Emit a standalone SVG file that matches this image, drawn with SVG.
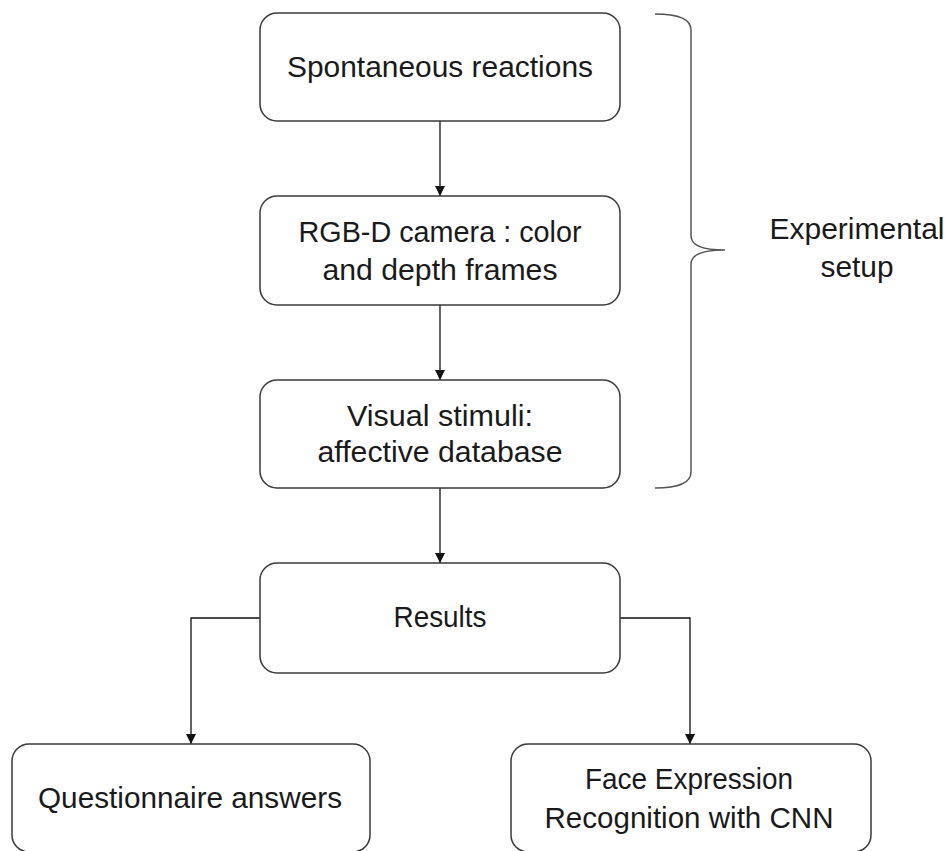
<svg xmlns="http://www.w3.org/2000/svg" width="949" height="851" viewBox="0 0 949 851">
  <style>
    .box rect { fill: #ffffff; stroke: #3a3a3a; stroke-width: 1.5; }
    .box text, .label { font-family: "Liberation Sans", Arial, sans-serif; font-size: 29px; fill: #1a1a1a; text-anchor: middle; }
    .conn { fill: none; stroke: #111111; stroke-width: 1.3; }
    .brace { fill: none; stroke: #555555; stroke-width: 1.5; }
  </style>
  <defs>
    <marker id="arrow" viewBox="0 0 10 10" refX="10" refY="5" markerWidth="10" markerHeight="10" markerUnits="userSpaceOnUse" orient="auto">
      <path d="M0,0 L10,5 L0,10 Z" fill="#111111"/>
    </marker>
  </defs>

  <rect width="949" height="851" fill="#ffffff"/>

  <!-- connectors -->
  <g id="connectors">
    <path class="conn" d="M440,121 V196" marker-end="url(#arrow)"/>
    <path class="conn" d="M440,305 V380" marker-end="url(#arrow)"/>
    <path class="conn" d="M440,488 V563" marker-end="url(#arrow)"/>
    <path class="conn" d="M260,618 H191 V744" marker-end="url(#arrow)"/>
    <path class="conn" d="M620,618 H690 V744" marker-end="url(#arrow)"/>
  </g>

  <!-- nodes -->
  <g id="spontaneous" class="box">
    <rect x="260" y="13" width="360" height="108" rx="17"/>
    <text x="440" y="77" textLength="306" lengthAdjust="spacingAndGlyphs">Spontaneous reactions</text>
  </g>
  <g id="camera" class="box">
    <rect x="260" y="196" width="360" height="109" rx="17"/>
    <text x="440" y="242" textLength="283" lengthAdjust="spacingAndGlyphs">RGB-D camera : color</text>
    <text x="440" y="280" textLength="235" lengthAdjust="spacingAndGlyphs">and depth frames</text>
  </g>
  <g id="stimuli" class="box">
    <rect x="260" y="380" width="360" height="108" rx="17"/>
    <text x="440" y="426" textLength="186" lengthAdjust="spacingAndGlyphs">Visual stimuli:</text>
    <text x="440" y="462" textLength="245" lengthAdjust="spacingAndGlyphs">affective database</text>
  </g>
  <g id="results" class="box">
    <rect x="260" y="563" width="360" height="110" rx="17"/>
    <text x="440" y="627" textLength="93" lengthAdjust="spacingAndGlyphs">Results</text>
  </g>
  <g id="questionnaire" class="box">
    <rect x="12" y="744" width="358" height="108" rx="17"/>
    <text x="190" y="808" textLength="304" lengthAdjust="spacingAndGlyphs">Questionnaire answers</text>
  </g>
  <g id="fer" class="box">
    <rect x="511" y="744" width="360" height="108" rx="17"/>
    <text x="689" y="789" textLength="208" lengthAdjust="spacingAndGlyphs">Face Expression</text>
    <text x="689" y="828" textLength="289" lengthAdjust="spacingAndGlyphs">Recognition with CNN</text>
  </g>

  <!-- brace grouping the setup stages -->
  <g id="setup">
    <path class="brace" d="M655,14 Q691,14 691,30 V236 Q691,250 725,250 Q691,250 691,264 V472 Q691,488 655,488"/>
    <text class="label" x="857" y="239" textLength="175" lengthAdjust="spacingAndGlyphs">Experimental</text>
    <text class="label" x="857" y="277" textLength="73" lengthAdjust="spacingAndGlyphs">setup</text>
  </g>
</svg>
